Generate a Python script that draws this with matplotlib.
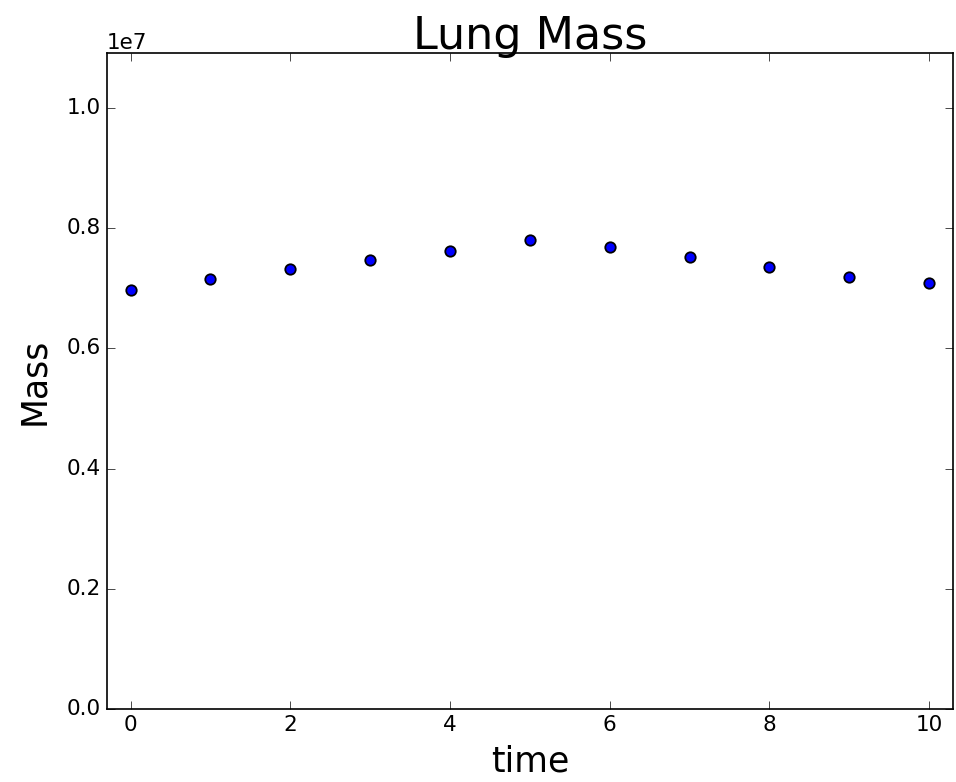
import matplotlib
matplotlib.use("Agg")
import matplotlib.pyplot as plt

# Data
time = [0, 1, 2, 3, 4, 5, 6, 7, 8, 9, 10]
mass = [6.972e6, 7.155e6, 7.321e6, 7.466e6, 7.621e6, 7.804e6,
        7.682e6, 7.526e6, 7.354e6, 7.193e6, 7.083e6]

plt.style.use("classic")
plt.rcParams["font.family"] = ["DejaVu Sans"]

fig = plt.figure(figsize=(9.56, 7.82), dpi=100, facecolor="white")
ax = fig.add_axes([0.1116, 0.0934, 0.8853, 0.8392])
ax.set_facecolor("white")

ax.plot(time, mass, "o", color="blue", markeredgecolor="black",
        markeredgewidth=1.3, markersize=7.5)

ax.set_xlim(-0.3, 10.3)
ax.set_ylim(0, 1.092e7)
ax.set_xticks([0, 2, 4, 6, 8, 10])
ax.set_yticks([0, 0.2e7, 0.4e7, 0.6e7, 0.8e7, 1.0e7])
ax.tick_params(labelsize=15.5, direction="in", top=True, right=True, length=6)
ax.yaxis.get_offset_text().set_fontsize(15.5)
for s in ax.spines.values():
    s.set_linewidth(1.2)

ax.set_title("Lung Mass", fontsize=32, pad=3)
ax.set_xlabel("time", fontsize=25, labelpad=7)
ax.set_ylabel("Mass", fontsize=25, labelpad=11)

plt.savefig("out.png", dpi=100, facecolor="white")
